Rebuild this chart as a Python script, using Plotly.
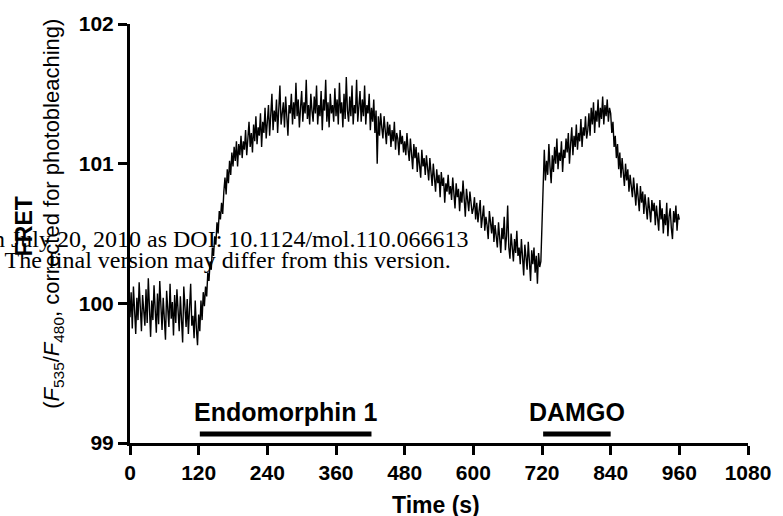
import numpy as np
import plotly.graph_objects as go

# FRET trace, one reading every 2 s from 0 to 960 s
SAMPLE_STEP_S = 2
fret = [
    99.90, 100.08, 99.82, 100.12, 99.95, 99.78, 100.04, 99.88, 100.15, 99.92,
    99.80, 100.06, 99.97, 99.84, 100.10, 99.86, 100.18, 99.93, 99.76, 100.02,
    99.88, 100.13, 99.94, 99.79, 100.07, 99.85, 100.16, 99.98, 99.81, 100.04,
    99.90, 99.74, 100.09, 99.96, 99.83, 100.14, 99.89, 100.01, 99.77, 100.06,
    99.86, 100.10, 99.92, 99.80, 100.05, 99.87, 99.72, 100.12, 99.95, 99.83,
    100.03, 99.78, 99.96, 100.14, 99.84, 99.91, 99.75, 100.02, 99.82, 99.70,
    99.92, 99.80, 100.02, 99.88, 100.08, 99.98, 100.12, 100.05, 100.22, 100.16,
    100.30, 100.24, 100.40, 100.34, 100.48, 100.42, 100.58, 100.50, 100.66, 100.60,
    100.72, 100.64, 100.80, 100.90, 100.78, 100.96, 100.86, 101.02, 100.92, 101.08,
    100.98, 101.12, 101.02, 101.16, 100.98, 101.14, 101.06, 101.20, 101.04, 101.16,
    101.10, 101.24, 101.06, 101.20, 101.30, 101.12, 101.22, 101.08, 101.28, 101.16,
    101.34, 101.14, 101.26, 101.20, 101.36, 101.12, 101.30, 101.22, 101.40, 101.18,
    101.28, 101.42, 101.20, 101.36, 101.50, 101.24, 101.38, 101.30, 101.46, 101.22,
    101.40, 101.56, 101.28, 101.36, 101.44, 101.26, 101.48, 101.34, 101.20, 101.42,
    101.36, 101.50, 101.28, 101.44, 101.32, 101.58, 101.34, 101.46, 101.26, 101.40,
    101.52, 101.30, 101.44, 101.36, 101.60, 101.32, 101.42, 101.28, 101.50, 101.38,
    101.30, 101.48, 101.36, 101.56, 101.28, 101.42, 101.34, 101.52, 101.24, 101.46,
    101.38, 101.60, 101.30, 101.44, 101.26, 101.50, 101.36, 101.42, 101.30, 101.54,
    101.34, 101.46, 101.28, 101.58, 101.36, 101.44, 101.26, 101.50, 101.32, 101.62,
    101.38, 101.30, 101.48, 101.34, 101.56, 101.28, 101.42, 101.36, 101.60, 101.30,
    101.40, 101.52, 101.30, 101.46, 101.34, 101.56, 101.28, 101.42, 101.36, 101.50,
    101.24, 101.40, 101.30, 101.46, 101.22, 101.38, 101.00, 101.34, 101.20, 101.36,
    101.26, 101.18, 101.34, 101.22, 101.14, 101.30, 101.20, 101.28, 101.12, 101.24,
    101.16, 101.30, 101.10, 101.22, 101.18, 101.06, 101.24, 101.14, 101.20, 101.08,
    101.16, 101.06, 101.22, 101.10, 101.02, 101.18, 101.08, 100.96, 101.14, 101.04,
    101.12, 100.94, 101.08, 101.00, 100.90, 101.10, 100.98, 101.04, 100.92, 101.06,
    100.96, 100.88, 101.04, 100.92, 100.84, 101.00, 100.90, 100.80, 100.96, 100.86,
    100.92, 100.76, 100.94, 100.84, 100.90, 100.72, 100.86, 100.80, 100.92, 100.78,
    100.84, 100.74, 100.90, 100.78, 100.68, 100.86, 100.76, 100.82, 100.66, 100.80,
    100.72, 100.88, 100.70, 100.62, 100.82, 100.74, 100.66, 100.80, 100.70, 100.64,
    100.68, 100.76, 100.60, 100.72, 100.58, 100.66, 100.74, 100.54, 100.64, 100.70,
    100.52, 100.62, 100.56, 100.46, 100.66, 100.58, 100.50, 100.62, 100.44, 100.56,
    100.50, 100.40, 100.58, 100.44, 100.36, 100.54, 100.46, 100.62, 100.38, 100.48,
    100.70, 100.40, 100.32, 100.50, 100.42, 100.30, 100.46, 100.36, 100.52, 100.34,
    100.40, 100.28, 100.46, 100.32, 100.20, 100.42, 100.34, 100.24, 100.44, 100.30,
    100.16, 100.38, 100.28, 100.40, 100.22, 100.34, 100.14, 100.36, 100.26, 100.30,
    100.60, 100.96, 101.10, 100.88, 101.02, 100.92, 101.14, 100.98, 100.86, 101.06,
    100.94, 101.12, 101.00, 101.18, 100.96, 101.08, 101.02, 101.16, 100.94, 101.10,
    101.04, 101.18, 101.08, 101.22, 101.00, 101.14, 101.26, 101.06, 101.20, 101.12,
    101.28, 101.10, 101.22, 101.16, 101.32, 101.12, 101.26, 101.20, 101.34, 101.18,
    101.24, 101.36, 101.20, 101.40, 101.28, 101.44, 101.22, 101.38, 101.30, 101.46,
    101.26, 101.40, 101.32, 101.48, 101.28, 101.42, 101.34, 101.46, 101.30, 101.40,
    101.36, 101.22, 101.30, 101.12, 101.20, 101.04, 101.14, 100.96, 101.08, 100.90,
    101.04, 100.94, 100.84, 101.00, 100.88, 100.96, 100.80, 100.92, 100.84, 100.76,
    100.90, 100.80, 100.70, 100.86, 100.76, 100.66, 100.84, 100.72, 100.80, 100.64,
    100.78, 100.70, 100.60, 100.76, 100.68, 100.58, 100.74, 100.66, 100.72, 100.56,
    100.70, 100.62, 100.52, 100.74, 100.60, 100.68, 100.50, 100.64, 100.56, 100.72,
    100.48, 100.62, 100.68, 100.54, 100.46, 100.66, 100.58, 100.70, 100.52, 100.64,
    100.60,
]
time_s = np.arange(len(fret)) * SAMPLE_STEP_S

# drug applications
drug_names = ["Endomorphin 1", "DAMGO"]
drug_start = [122, 722]
drug_end = [422, 840]

x_ticks = [0, 120, 240, 360, 480, 600, 720, 840, 960, 1080]
y_ticks = [99, 100, 101, 102]

SANS = "Liberation Sans, Arial, sans-serif"
SERIF = "Liberation Serif, Times New Roman, serif"
BAR_Y = 99.064
LABEL_Y = 99.22

fig = go.Figure()
fig.add_trace(go.Scatter(x=time_s, y=fret, mode="lines",
                         line=dict(color="black", width=1.4), showlegend=False))

for name, t0, t1 in zip(drug_names, drug_start, drug_end):
    fig.add_trace(go.Scatter(x=[t0, t1], y=[BAR_Y, BAR_Y], mode="lines",
                             line=dict(color="black", width=5), showlegend=False))
    fig.add_annotation(x=(t0 + t1) / 2, y=LABEL_Y, text=name, showarrow=False,
                       font=dict(family=SANS, size=25, color="black", weight="bold"),
                       xanchor="center", yanchor="middle")

axis_common = dict(showgrid=False, zeroline=False, showline=True, linecolor="black",
                   linewidth=3, ticks="outside", ticklen=9, tickwidth=3, tickcolor="black",
                   tickfont=dict(family=SANS, size=21, color="black", weight="bold"))

fig.update_xaxes(range=[0, 1080], tickvals=x_ticks, **axis_common)
fig.update_yaxes(range=[99, 102], tickvals=y_ticks, **axis_common)

# axis titles
fig.add_annotation(xref="paper", yref="paper", x=0.495, y=-0.147, text="Time (s)",
                   showarrow=False, xanchor="center", yanchor="middle",
                   font=dict(family=SANS, size=23, color="black", weight="bold"))
fig.add_annotation(xref="paper", yref="paper", x=-0.171, y=0.518, text="FRET",
                   textangle=-90, showarrow=False, xanchor="center", yanchor="middle",
                   font=dict(family=SANS, size=23, color="black", weight="bold"))
fig.add_annotation(xref="paper", yref="paper", x=-0.124, y=0.548,
                   text="(<i>F</i><sub>535</sub>/<i>F</i><sub>480</sub>, corrected for photobleaching)",
                   textangle=-90, showarrow=False, xanchor="center", yanchor="middle",
                   font=dict(family=SANS, size=22, color="black"))

# journal watermark overlapping the figure
fig.add_annotation(xref="paper", yref="paper", x=0.552, y=0.486,
                   text="n July 20, 2010 as DOI: 10.1124/mol.110.066613",
                   showarrow=False, xanchor="right", yanchor="middle",
                   font=dict(family=SERIF, size=24, color="black"))
fig.add_annotation(xref="paper", yref="paper", x=0.522, y=0.436,
                   text=". The final version may differ from this version.",
                   showarrow=False, xanchor="right", yanchor="middle",
                   font=dict(family=SERIF, size=24, color="black"))

fig.update_layout(width=783, height=516, plot_bgcolor="white", paper_bgcolor="white",
                  margin=dict(l=130, r=27, t=21, b=73))

# drop the default page margin so the figure fills the window
fig.write_html("out.html", config={"displayModeBar": False},
               post_script="document.body.style.margin='0';")
